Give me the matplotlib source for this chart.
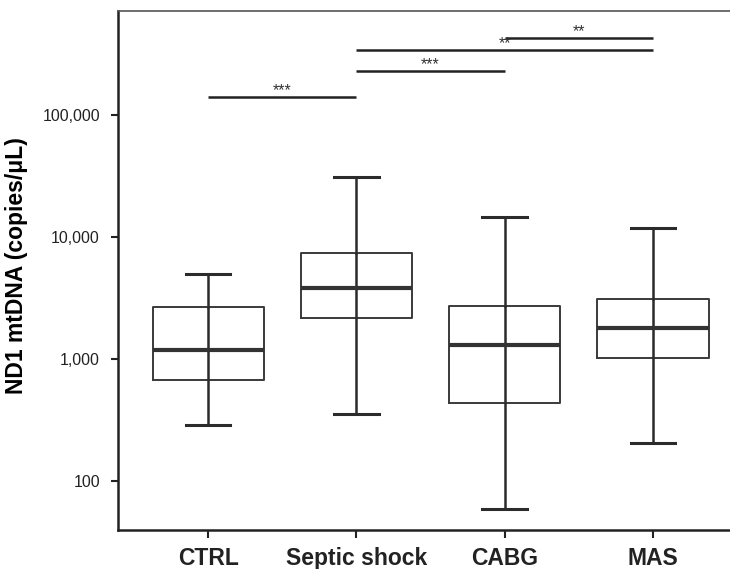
import numpy as np
import matplotlib
matplotlib.use("Agg")
import matplotlib.pyplot as plt
from matplotlib.ticker import FuncFormatter, NullLocator, FixedLocator

plt.rcParams["font.family"] = ["Liberation Sans", "DejaVu Sans"]

# Data (copies/uL)
groups = ["CTRL", "Septic shock", "CABG", "MAS"]
whisker_low = [288, 353, 59, 205]
q1 = [664, 2157, 430, 1019]
median = [1191, 3786, 1285, 1782]
q3 = [2640, 7380, 2690, 3090]
whisker_high = [4930, 30900, 14500, 11780]

# significance brackets: (group a, group b, y level, label)
sig_from = [1, 2, 2, 3]
sig_to = [2, 3, 4, 4]
sig_y = [141000, 229600, 341000, 428000]
sig_text = ["***", "***", "**", "**"]

y_ticks = [100, 1000, 10000, 100000]

fig = plt.figure(figsize=(7.3, 5.69), dpi=100)
ax = fig.add_axes([0.1616, 0.0685, 0.8384, 0.9122])

stats = []
for i, g in enumerate(groups):
    stats.append({
        "label": g,
        "whislo": whisker_low[i],
        "q1": q1[i],
        "med": median[i],
        "q3": q3[i],
        "whishi": whisker_high[i],
        "fliers": [],
    })

pos = list(range(1, len(groups) + 1))
line_col = "#2b2b2b"

# the whisker line runs straight through the box in the reference
ax.vlines(pos, q1, q3, color=line_col, linewidth=1.8, zorder=1.9)

ax.bxp(
    stats,
    positions=pos,
    widths=0.75,
    capwidths=0.3,
    showfliers=False,
    boxprops=dict(color="#3a3a3a", linewidth=1.4),
    medianprops=dict(color="#333333", linewidth=3.0),
    whiskerprops=dict(color=line_col, linewidth=1.8),
    capprops=dict(color=line_col, linewidth=2.2),
)

# significance bars
for a, b, y, t in zip(sig_from, sig_to, sig_y, sig_text):
    ax.plot([a, b], [y, y], color="#222222", linewidth=1.8, solid_capstyle="butt")
    ax.text((a + b) / 2, y * 0.97, t, ha="center", va="bottom",
            fontsize=11.5, color="#333333")

ax.set_yscale("log")
ax.set_ylim(39.4, 712000)
ax.set_xlim(0.392, 4.52)
ax.yaxis.set_major_locator(FixedLocator(y_ticks))
ax.yaxis.set_minor_locator(NullLocator())
ax.yaxis.set_major_formatter(FuncFormatter(lambda v, p: f"{int(v):,}"))

ax.set_xticks(pos)
ax.set_xticklabels(groups, fontsize=16.5, fontweight="bold")
ax.tick_params(axis="y", labelsize=11.5, length=5, width=1.5, pad=8,
               colors="#222222")
ax.tick_params(axis="x", length=6, width=1.5, pad=6, colors="#222222")

ax.set_ylabel("ND1 mtDNA (copies/μL)", fontsize=16.5, fontweight="bold")
ax.yaxis.set_label_coords(-0.147, 0.51)

ax.spines["right"].set_visible(False)
ax.spines["left"].set_linewidth(1.8)
ax.spines["bottom"].set_linewidth(1.8)
ax.spines["top"].set_linewidth(1.2)
ax.spines["top"].set_color("#555555")
for s in ["left", "bottom"]:
    ax.spines[s].set_color("#222222")

fig.savefig("out.png", dpi=100)
